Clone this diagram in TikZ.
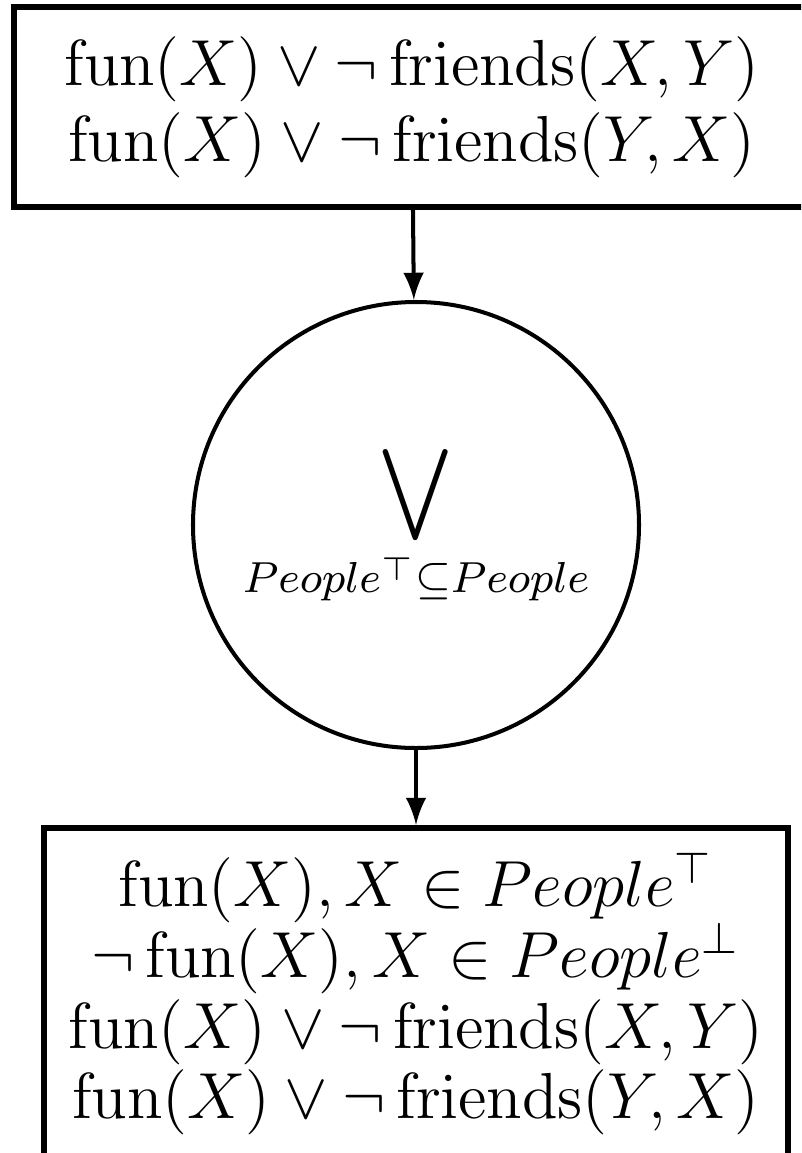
\documentclass[tikz,border=0pt,12pt]{standalone}
\usepackage{amsmath,amssymb}

\begin{document}
\begin{tikzpicture}[x=0.1843pt,y=-0.1843pt,
                    every node/.style={draw,inner sep=0pt,font=\fontsize{12}{14}\selectfont},
                    clause/.style={rectangle,line width=1.1pt,align=center},
                    comb/.style={circle,line width=0.74pt,minimum size=82.2pt},
                    flow/.style={-latex,line width=0.74pt}]
  \useasboundingbox (0,0) rectangle (801,1153);
  \clip (0,0) rectangle (801,1153);
  \node[clause,minimum width=146.7pt,minimum height=36.7pt] (src) at (412,107)
    {$\mathrm{fun}(X)\vee\neg\,\mathrm{friends}(X,Y)$\\
     $\mathrm{fun}(X)\vee\neg\,\mathrm{friends}(Y,X)$};
  \node[comb] (or) at (416,525) {$\displaystyle\bigvee_{People^{\top}\subseteq People}$};
  \node[clause,minimum width=137.1pt,minimum height=61.2pt,
        font=\fontsize{12}{13}\selectfont] (res) at (416,994)
    {$\mathrm{fun}(X), X\in People^{\top}$\\
     $\neg\,\mathrm{fun}(X), X\in People^{\bot}$\\
     $\mathrm{fun}(X)\vee\neg\,\mathrm{friends}(X,Y)$\\
     $\mathrm{fun}(X)\vee\neg\,\mathrm{friends}(Y,X)$};
  \draw[flow] (src) -- (or);
  \draw[flow] (or) -- (res);
\end{tikzpicture}
\end{document}
